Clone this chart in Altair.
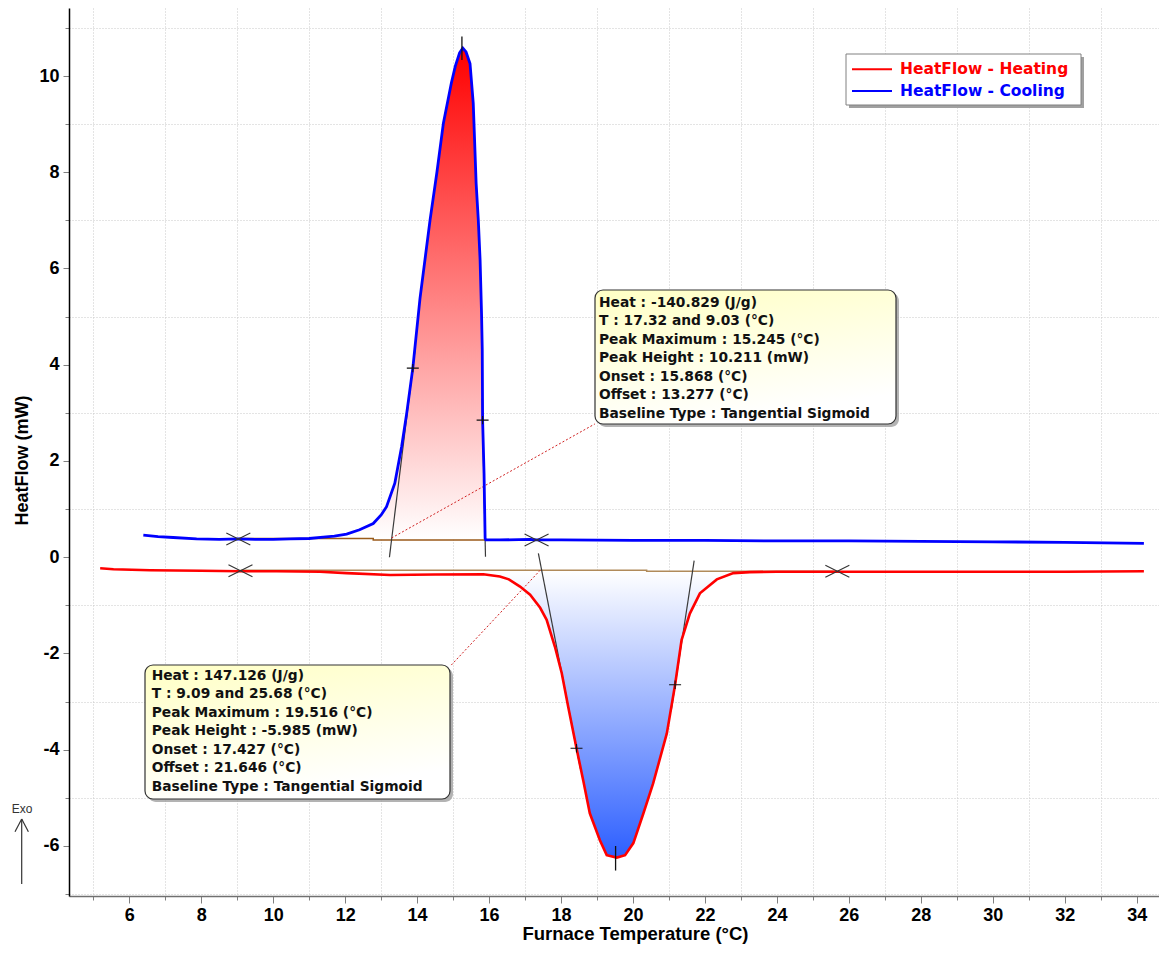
import altair as alt
import pandas as pd

# ---------------- data ----------------
cool_temp = [6.39, 6.8, 7.22, 7.87, 8.5, 9.03, 9.5, 10.0, 10.47, 11.0, 11.39, 11.7, 12.04, 12.4, 12.78,
             13.0, 13.15, 13.38, 13.57, 13.71, 13.88, 14.08, 14.36, 14.55, 14.73, 14.95, 15.06, 15.18,
             15.27, 15.36, 15.47, 15.56, 15.64, 15.70, 15.75, 15.79, 15.81, 15.82, 15.86, 15.89, 15.91,
             16.3, 17.14, 17.32, 18, 20, 22, 24, 26, 28, 30, 32, 34.2]
cool_flow = [0.46, 0.43, 0.41, 0.38, 0.37, 0.38, 0.37, 0.37, 0.38, 0.39, 0.42, 0.44, 0.48, 0.57, 0.70,
             0.88, 1.05, 1.54, 2.30, 2.99, 3.93, 5.38, 7.01, 8.0, 9.02, 9.85, 10.2, 10.48,
             10.58, 10.5, 10.26, 9.43, 7.77, 7.01, 6.18, 5.07, 4.31, 2.85, 1.74, 0.39, 0.36,
             0.36, 0.37, 0.36, 0.36, 0.35, 0.35, 0.34, 0.34, 0.33, 0.32, 0.31, 0.29]

heat_temp = [5.19, 5.56, 6.58, 8.0, 9.09, 10.10, 11.30, 12.04, 13.25, 14.5, 15.84, 16.30, 16.55, 16.86,
             17.14, 17.42, 17.60, 17.83, 18.02, 18.20, 18.43, 18.62, 18.80, 19.08, 19.27, 19.55, 19.78,
             20.01, 20.29, 20.56, 20.94, 21.17, 21.35, 21.58, 21.86, 22.33, 22.79, 23.25, 24, 26, 28,
             30, 32, 34.2]
heat_flow = [-0.23, -0.25, -0.27, -0.28, -0.29, -0.29, -0.30, -0.33, -0.37, -0.36, -0.355, -0.40, -0.46,
             -0.61, -0.78, -1.05, -1.30, -1.86, -2.41, -3.11, -3.97, -4.65, -5.32, -5.88, -6.19, -6.24,
             -6.19, -5.94, -5.32, -4.70, -3.66, -2.65, -1.72, -1.17, -0.75, -0.46, -0.33, -0.31, -0.30,
             -0.30, -0.30, -0.30, -0.30, -0.29]

cool_base_temp = [9.03, 12.78, 12.78, 17.32]
cool_base_flow = [0.39, 0.39, 0.36, 0.36]
heat_base_temp = [9.09, 20.38, 20.38, 25.68]
heat_base_flow = [-0.27, -0.27, -0.29, -0.29]
cool_fill_range = [12.0, 15.9]
heat_fill_range = [16.3, 23.3]
cool_fill_base = 0.37
heat_fill_base = -0.28

limit_temp = [9.03, 17.32, 9.09, 25.68]
limit_flow = [0.38, 0.36, -0.28, -0.29]

tangent_id = ["c_on", "c_on", "c_off", "c_off", "h_on", "h_on", "h_off", "h_off"]
tangent_temp = [13.23, 13.94, 15.90, 15.807, 17.37, 18.54, 21.70, 21.06]
tangent_flow = [0.0, 4.3, 0.01, 3.3, 0.08, -4.4, -0.07, -3.2]

inflect_temp = [13.88, 15.82, 18.43, 21.17]
inflect_flow = [3.93, 2.85, -3.97, -2.65]

peak_temp = [15.245, 19.516]
peak_lo = [10.33, -6.51]
peak_hi = [10.82, -6.0]

link_id = ["c", "c", "h", "h"]
link_temp = [18.94, 13.29, 14.95, 17.42]
link_flow = [2.77, 0.40, -2.24, -0.27]

cool_note = ["Heat :  -140.829 (J/g)", "T : 17.32 and 9.03 (°C)", "Peak Maximum :  15.245 (°C)",
             "Peak Height :  10.211 (mW)", "Onset :  15.868 (°C)", "Offset :  13.277 (°C)",
             "Baseline Type :  Tangential Sigmoid"]
heat_note = ["Heat :  147.126 (J/g)", "T : 9.09 and 25.68 (°C)", "Peak Maximum :  19.516 (°C)",
             "Peak Height :  -5.985 (mW)", "Onset :  17.427 (°C)", "Offset :  21.646 (°C)",
             "Baseline Type :  Tangential Sigmoid"]

series_names = ["HeatFlow - Heating", "HeatFlow - Cooling"]
x_ticks = list(range(5, 35))
y_ticks = list(range(-7, 12))

# ---------------- tables ----------------
cool = pd.DataFrame({"t": cool_temp, "f": cool_flow})
heat = pd.DataFrame({"t": heat_temp, "f": heat_flow})
cool_fill = cool[(cool.t >= cool_fill_range[0]) & (cool.t <= cool_fill_range[1])].assign(b=cool_fill_base)
heat_fill = heat[(heat.t >= heat_fill_range[0]) & (heat.t <= heat_fill_range[1])].assign(b=heat_fill_base)
cool_base = pd.DataFrame({"t": cool_base_temp, "f": cool_base_flow})
heat_base = pd.DataFrame({"t": heat_base_temp, "f": heat_base_flow})
limits = pd.DataFrame({"t": limit_temp, "f": limit_flow})
tangents = pd.DataFrame({"id": tangent_id, "t": tangent_temp, "f": tangent_flow})
inflects = pd.DataFrame({"t": inflect_temp, "f": inflect_flow})
peaks = pd.DataFrame({"t": peak_temp, "f": peak_lo, "hi": peak_hi})
links = pd.DataFrame({"id": link_id, "t": link_temp, "f": link_flow})
one = pd.DataFrame({"k": [0]})

FONT = "Liberation Sans"
NOTE_FONT = "DejaVu Sans"

XS = alt.Scale(domain=[4.324, 34.62], nice=False, zero=False)
YS = alt.Scale(domain=[-7.039, 11.413], nice=False, zero=False)

even = "datum.value % 2 == 0"
lab = f"{even} ? ('' + datum.value) : ''"
x_axis = alt.Axis(
    values=x_ticks, labelExpr=lab,
    title="Furnace Temperature (°C)", titleFont=FONT, titleFontSize=18.5, titleFontWeight="bold",
    titleColor="black", titleX=566, titleY=37, titleAlign="center", titleBaseline="middle", titleAngle=0,
    labelFont=FONT, labelFontSize=18, labelFontWeight="bold", labelColor="black", labelPadding=3,
    labelOverlap=False, labelFlush=False, labelBound=False,
    tickColor="#808080", tickWidth=1,
    tickSize={"condition": {"test": even, "value": 7}, "value": 4},
    grid=True, gridColor="#c8c8c8", gridDash=[1, 2], gridWidth=1,
    gridOpacity={"condition": {"test": even, "value": 0}, "value": 1},
    domainColor="#707070", domainWidth=1.5,
)
y_axis = alt.Axis(
    values=y_ticks, labelExpr=lab,
    title="HeatFlow (mW)", titleFont=FONT, titleFontSize=18, titleFontWeight="bold",
    titleColor="black", titleX=-47, titleY=452, titleAlign="center", titleBaseline="middle", titleAngle=270,
    labelFont=FONT, labelFontSize=18, labelFontWeight="bold", labelColor="black", labelPadding=4,
    labelOverlap=False, labelFlush=False, labelBound=False,
    tickColor="#808080", tickWidth=1,
    tickSize={"condition": {"test": even, "value": 6}, "value": 4},
    grid=True, gridColor="#c8c8c8", gridDash=[1, 2], gridWidth=1,
    gridOpacity={"condition": {"test": even, "value": 0}, "value": 1},
    domainColor="black", domainWidth=1.5,
)
X = alt.X("t:Q", scale=XS, axis=x_axis)
Y = alt.Y("f:Q", scale=YS, axis=y_axis)

red_grad = {"gradient": "linear", "x1": 0, "y1": 0, "x2": 0, "y2": 1,
            "stops": [{"offset": 0, "color": "#ff0000"}, {"offset": 1, "color": "#ffffff"}]}
blue_grad = {"gradient": "linear", "x1": 0, "y1": 0, "x2": 0, "y2": 1,
             "stops": [{"offset": 0, "color": "#ffffff"}, {"offset": 1, "color": "#2d5fff"}]}
note_grad = {"gradient": "linear", "x1": 0, "y1": 0, "x2": 0.35, "y2": 1,
             "stops": [{"offset": 0, "color": "#ffffc4"}, {"offset": 1, "color": "#ffffff"}]}

layers = []
# fills
layers.append(alt.Chart(cool_fill).mark_area(color=red_grad).encode(x=X, y=Y, y2="b:Q"))
layers.append(alt.Chart(heat_fill).mark_area(color=blue_grad).encode(x=X, y=Y, y2="b:Q"))
# baselines
layers.append(alt.Chart(cool_base).mark_line(color="#9a5a1a", strokeWidth=1.5).encode(x=X, y=Y))
layers.append(alt.Chart(heat_base).mark_line(color="#b08a5a", strokeWidth=1.5).encode(x=X, y=Y))
# tangents
layers.append(alt.Chart(tangents).mark_line(color="#3a3a3a", strokeWidth=1.2).encode(x=X, y=Y, detail="id:N"))
# connectors
layers.append(alt.Chart(links).mark_line(color="#d02020", strokeWidth=1, strokeDash=[2, 2]).encode(x=X, y=Y, detail="id:N"))
# curves
layers.append(alt.Chart(heat).mark_line(color="#ff0000", strokeWidth=2.6).encode(x=X, y=Y))
layers.append(alt.Chart(cool).mark_line(color="#0000ff", strokeWidth=2.8).encode(x=X, y=Y))
# markers
layers.append(alt.Chart(limits).mark_point(shape="M-1,-0.5L1,0.5M-1,0.5L1,-0.5", size=576, filled=False,
                                           color="#333333", strokeWidth=1.1, opacity=1).encode(x=X, y=Y))
layers.append(alt.Chart(inflects).mark_point(shape="M-1,0L1,0M0,-0.7L0,0.7", size=144, filled=False,
                                             color="#111111", strokeWidth=1.1, opacity=1).encode(x=X, y=Y))
layers.append(alt.Chart(peaks).mark_rule(color="#111111", strokeWidth=1.3).encode(x=X, y=Y, y2="hi:Q"))

# annotation boxes (pixel placement, relative to plot origin)
def note_box(x0, y0, x1, y1, lines, tx, ty):
    shadow = alt.Chart(one).mark_rect(color="#a0a0a0", cornerRadius=8, opacity=0.8).encode(
        x=alt.value(x0 + 3), x2=alt.value(x1 + 3), y=alt.value(y0 + 3), y2=alt.value(y1 + 3))
    box = alt.Chart(one).mark_rect(fill=note_grad, stroke="#333333", strokeWidth=1.2, cornerRadius=8).encode(
        x=alt.value(x0), x2=alt.value(x1), y=alt.value(y0), y2=alt.value(y1))
    txt = alt.Chart(one).mark_text(text=lines, font=NOTE_FONT, fontSize=13.8, fontWeight="bold",
                                   color="#111111", align="left", baseline="middle", lineHeight=18.5).encode(
        x=alt.value(tx), y=alt.value(ty))
    return [shadow, box, txt]

layers += note_box(526, 282, 827, 416, cool_note, 530, 294.7)
layers += note_box(76, 657, 381, 791, heat_note, 82.7, 667.7)

# legend
layers.append(alt.Chart(one).mark_rect(color="#a0a0a0").encode(
    x=alt.value(780), x2=alt.value(1015), y=alt.value(49), y2=alt.value(100)))
layers.append(alt.Chart(one).mark_rect(fill="white", stroke="#808080", strokeWidth=1).encode(
    x=alt.value(777), x2=alt.value(1012), y=alt.value(46), y2=alt.value(97)))
leg_colors = ["#ff0000", "#0000ff"]
leg_y = [61.3, 83]
for name, c, yy in zip(series_names, leg_colors, leg_y):
    layers.append(alt.Chart(one).mark_rule(color=c, strokeWidth=2).encode(
        x=alt.value(783), x2=alt.value(823), y=alt.value(yy)))
    layers.append(alt.Chart(one).mark_text(text=name, font=NOTE_FONT, fontSize=15.5, fontWeight="bold",
                                           color=c, align="left", baseline="middle").encode(
        x=alt.value(831), y=alt.value(yy)))

# Exo arrow
layers.append(alt.Chart(one).mark_text(text="Exo", font=FONT, fontSize=12, color="#333333",
                                       align="center", baseline="middle").encode(x=alt.value(-47), y=alt.value(801)))
for (xa, ya, xb, yb) in [(-47.3, 811, -47.3, 876), (-47.3, 811, -54, 823.7), (-47.3, 811, -40.6, 823.7)]:
    layers.append(alt.Chart(one).mark_rule(color="#333333", strokeWidth=1.2).encode(
        x=alt.value(xa), x2=alt.value(xb), y=alt.value(ya), y2=alt.value(yb)))

chart = alt.layer(*layers).properties(
    width=1090, height=888,
    autosize=alt.AutoSizeParams(type="none"),
    padding={"left": 61, "top": 0, "right": 0, "bottom": 48},
    background="white",
).configure_view(strokeWidth=0)

chart.save("out.html", embed_options={"renderer": "svg", "actions": False})
